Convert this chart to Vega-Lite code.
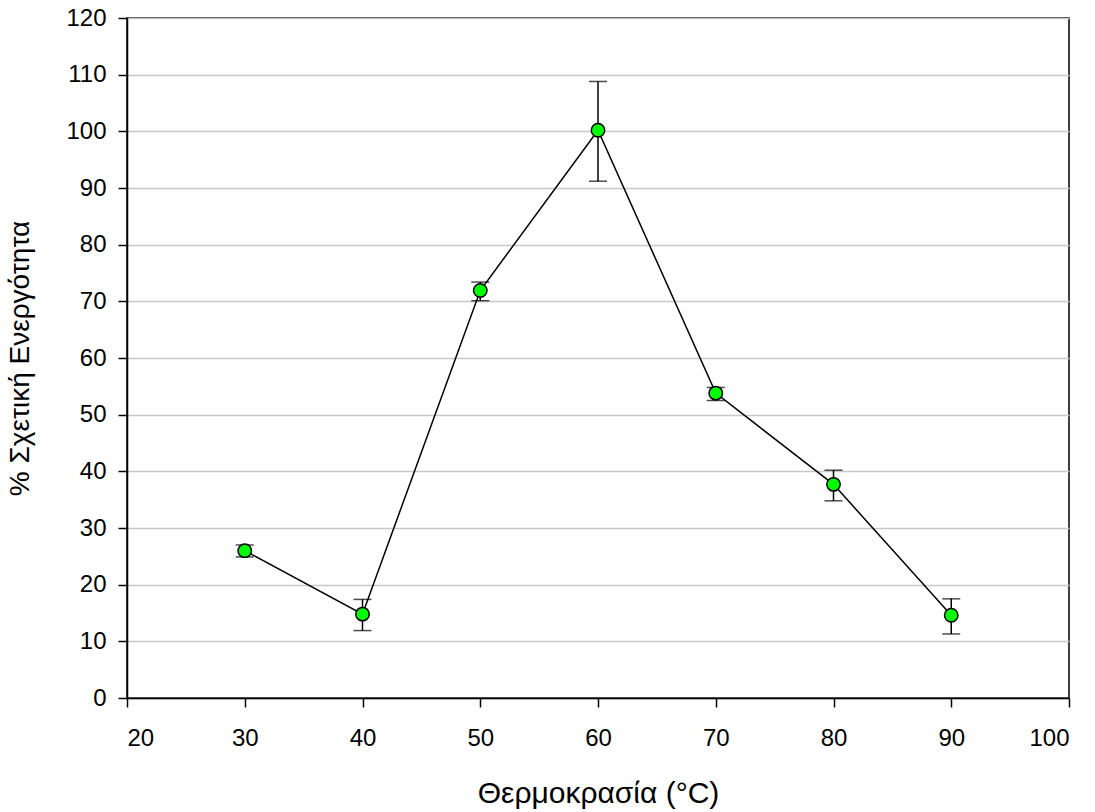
{
  "$schema": "https://vega.github.io/schema/vega-lite/v6.json",
  "width": 942,
  "height": 680,
  "autosize": {"type": "none"},
  "padding": {"left": 127, "top": 18, "right": 26, "bottom": 114},
  "background": "white",
  "config": {
    "view": {"stroke": "black", "strokeWidth": 1.5},
    "font": "Liberation Sans",
    "axis": {
      "labelFont": "Liberation Sans",
      "titleFont": "Liberation Sans",
      "labelFontSize": 24,
      "titleFontSize": 28,
      "labelColor": "black",
      "titleColor": "black",
      "titleFontWeight": "normal",
      "domainColor": "black",
      "domainWidth": 1.5,
      "tickColor": "black",
      "tickWidth": 1.5,
      "tickSize": 9
    }
  },
  "data": {
    "values": [
      {"t": 30, "v": 26.0, "lo": 24.9, "hi": 27.0},
      {"t": 40, "v": 14.8, "lo": 11.9, "hi": 17.4},
      {"t": 50, "v": 71.9, "lo": 70.1, "hi": 73.4},
      {"t": 60, "v": 100.2, "lo": 91.2, "hi": 108.8},
      {"t": 70, "v": 53.8, "lo": 52.5, "hi": 54.8},
      {"t": 80, "v": 37.7, "lo": 34.8, "hi": 40.2},
      {"t": 90, "v": 14.6, "lo": 11.3, "hi": 17.5}
    ]
  },
  "encoding": {
    "x": {
      "field": "t",
      "type": "quantitative",
      "scale": {"domain": [20, 100], "nice": false, "zero": false},
      "axis": {"values": [20, 30, 40, 50, 60, 70, 80, 90, 100], "grid": false, "title": "Θερμοκρασία (°C)", "titleFontSize": 30, "labelPadding": 19, "titlePadding": 28}
    }
  },
  "layer": [
    {
      "mark": {"type": "rule", "color": "black", "strokeWidth": 1.5},
      "encoding": {
        "y": {
          "field": "lo",
          "type": "quantitative",
          "scale": {"domain": [0, 120], "nice": false},
          "axis": {
            "values": [0, 10, 20, 30, 40, 50, 60, 70, 80, 90, 100, 110, 120],
            "grid": true,
            "gridColor": "#c8c8c8",
            "gridWidth": 1.5,
            "title": "% Σχετική Ενεργότητα",
            "labelPadding": 12,
            "titlePadding": 31
          }
        },
        "y2": {"field": "hi"}
      }
    },
    {
      "mark": {"type": "tick", "orient": "horizontal", "color": "black", "size": 18, "thickness": 1.5},
      "encoding": {"y": {"field": "lo", "type": "quantitative"}}
    },
    {
      "mark": {"type": "tick", "orient": "horizontal", "color": "black", "size": 18, "thickness": 1.5},
      "encoding": {"y": {"field": "hi", "type": "quantitative"}}
    },
    {
      "mark": {"type": "line", "color": "black", "strokeWidth": 1.5},
      "encoding": {"y": {"field": "v", "type": "quantitative"}}
    },
    {
      "mark": {"type": "point", "shape": "circle", "filled": true, "fill": "#00ff00", "stroke": "black", "strokeWidth": 1.5, "size": 180, "opacity": 1},
      "encoding": {"y": {"field": "v", "type": "quantitative"}}
    }
  ]
}
